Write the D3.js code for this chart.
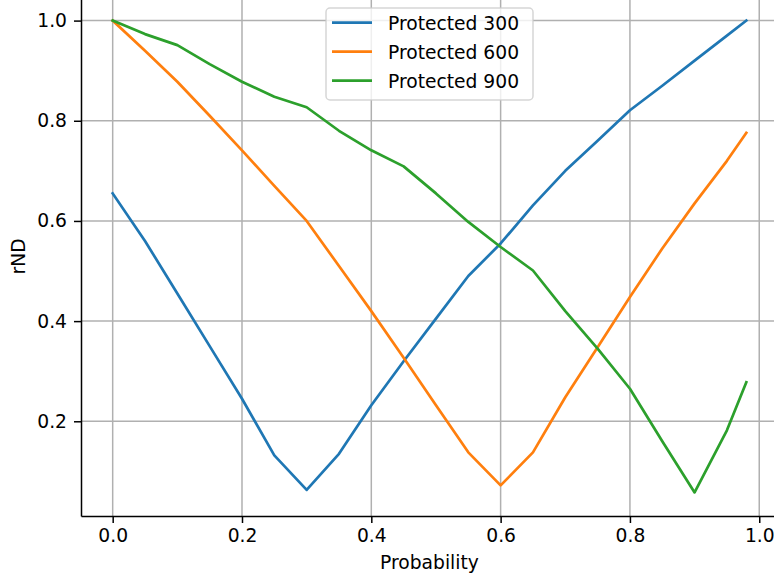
<!DOCTYPE html>
<html>
<head>
<meta charset="utf-8">
<script src="https://cdn.jsdelivr.net/npm/d3@7"></script>
<style>
  html, body { margin: 0; padding: 0; background: #fff; }
  svg { display: block; overflow: hidden; }
  text { font-family: "DejaVu Sans", sans-serif; fill: #000; }
</style>
</head>
<body>
<div id="line-chart"></div>
<script>
const probability = [0, 0.05, 0.1, 0.15, 0.2, 0.25, 0.3, 0.35, 0.4, 0.45, 0.5,
  0.55, 0.6, 0.65, 0.7, 0.75, 0.8, 0.85, 0.9, 0.95, 0.98];
const protected300 = [0.655, 0.56, 0.455, 0.35, 0.245, 0.132, 0.063, 0.135, 0.232, 0.32, 0.405,
  0.49, 0.555, 0.631, 0.7, 0.76, 0.821, 0.87, 0.92, 0.97, 1.0];
const protected600 = [1.0, 0.94, 0.878, 0.81, 0.741, 0.67, 0.6, 0.51, 0.42, 0.327, 0.232,
  0.138, 0.072, 0.138, 0.248, 0.348, 0.448, 0.545, 0.635, 0.72, 0.776];
const protected900 = [1.0, 0.973, 0.951, 0.913, 0.878, 0.848, 0.827, 0.78, 0.741, 0.709, 0.655,
  0.598, 0.548, 0.501, 0.42, 0.345, 0.265, 0.16, 0.058, 0.182, 0.278];
const seriesNames = ["Protected 300", "Protected 600", "Protected 900"];
const xTicks = [0, 0.2, 0.4, 0.6, 0.8, 1.0];
const yTicks = [0.2, 0.4, 0.6, 0.8, 1.0];

const width = 774;
const height = 583;
const plot = { left: 81, right: 778, top: -3, bottom: 516 };
const colors = ["#1f77b4", "#ff7f0e", "#2ca02c"];
const fontSize = 18.7;

let series;
let svg;
let xScale;
let yScale;

function createChart() {
  organizeData();
  createSvg();
  createScales();
  createGrid();
  createLines();
  createAxes();
  createLabels();
  createLegend();
}

function organizeData() {
  series = [protected300, protected600, protected900].map((values, i) => ({
    name: seriesNames[i],
    points: probability.map((p, j) => ({ x: p, y: values[j] })),
  }));
}

function createSvg() {
  svg = d3
    .select("#line-chart")
    .append("svg")
    .attr("width", width)
    .attr("height", height);
}

function createScales() {
  xScale = d3.scaleLinear().domain([-0.049, 1.029]).range([plot.left, plot.right]);
  yScale = d3.scaleLinear().domain([0.0109, 1.0471]).range([plot.bottom, plot.top]);
}

function createGrid() {
  const grid = svg.append("g").attr("stroke", "#b0b0b0").attr("stroke-width", 1.5);

  grid
    .selectAll(".vgrid")
    .data(xTicks)
    .enter()
    .append("line")
    .attr("x1", (d) => xScale(d))
    .attr("x2", (d) => xScale(d))
    .attr("y1", plot.top)
    .attr("y2", plot.bottom);

  grid
    .selectAll(".hgrid")
    .data(yTicks)
    .enter()
    .append("line")
    .attr("x1", plot.left)
    .attr("x2", plot.right)
    .attr("y1", (d) => yScale(d))
    .attr("y2", (d) => yScale(d));
}

function createLines() {
  const line = d3
    .line()
    .x((d) => xScale(d.x))
    .y((d) => yScale(d.y));

  svg
    .append("g")
    .selectAll("path")
    .data(series)
    .enter()
    .append("path")
    .attr("fill", "none")
    .attr("stroke", (d, i) => colors[i])
    .attr("stroke-width", 2.7)
    .attr("stroke-linejoin", "round")
    .attr("stroke-linecap", "square")
    .attr("d", (d) => line(d.points));
}

function createAxes() {
  const xAxis = svg
    .append("g")
    .attr("transform", "translate(0," + plot.bottom + ")")
    .call(
      d3.axisBottom(xScale)
        .tickValues(xTicks)
        .tickSize(7)
        .tickPadding(6)
        .tickSizeOuter(0)
        .tickFormat(d3.format(".1f"))
    );

  const yAxis = svg
    .append("g")
    .attr("transform", "translate(" + plot.left + ",0)")
    .call(
      d3.axisLeft(yScale)
        .tickValues(yTicks)
        .tickSize(7)
        .tickPadding(7)
        .tickSizeOuter(0)
        .tickFormat(d3.format(".1f"))
    );

  [xAxis, yAxis].forEach((axis) => {
    axis.select(".domain").attr("stroke", "#000").attr("stroke-width", 1.5);
    axis.selectAll(".tick line").attr("stroke", "#000").attr("stroke-width", 1.5);
    axis
      .selectAll(".tick text")
      .style("font-family", '"DejaVu Sans", sans-serif')
      .style("font-size", fontSize + "px")
      .attr("fill", "#000");
  });
}

function createLabels() {
  svg
    .append("text")
    .attr("x", (plot.left + plot.right) / 2)
    .attr("y", 569)
    .attr("text-anchor", "middle")
    .style("font-size", fontSize + "px")
    .text("Probability");

  svg
    .append("text")
    .attr("transform", "translate(25," + (plot.top + plot.bottom) / 2 + ") rotate(-90)")
    .attr("text-anchor", "middle")
    .style("font-size", fontSize + "px")
    .text("rND");
}

function createLegend() {
  const legend = svg.append("g").attr("transform", "translate(326,8)");

  legend
    .append("rect")
    .attr("width", 207)
    .attr("height", 92)
    .attr("rx", 4)
    .attr("fill", "#fff")
    .attr("fill-opacity", 0.8)
    .attr("stroke", "#cccccc")
    .attr("stroke-opacity", 0.8)
    .attr("stroke-width", 1.5);

  const rows = legend
    .selectAll(".legend")
    .data(series)
    .enter()
    .append("g")
    .classed("legend", true)
    .attr("transform", (d, i) => "translate(0," + (14.7 + i * 29) + ")");

  rows
    .append("line")
    .attr("x1", 6)
    .attr("x2", 46)
    .attr("stroke", (d, i) => colors[i])
    .attr("stroke-width", 2.7);

  rows
    .append("text")
    .attr("x", 62)
    .attr("y", 7)
    .style("font-size", fontSize + "px")
    .text((d) => d.name);
}

createChart();
</script>
</body>
</html>
